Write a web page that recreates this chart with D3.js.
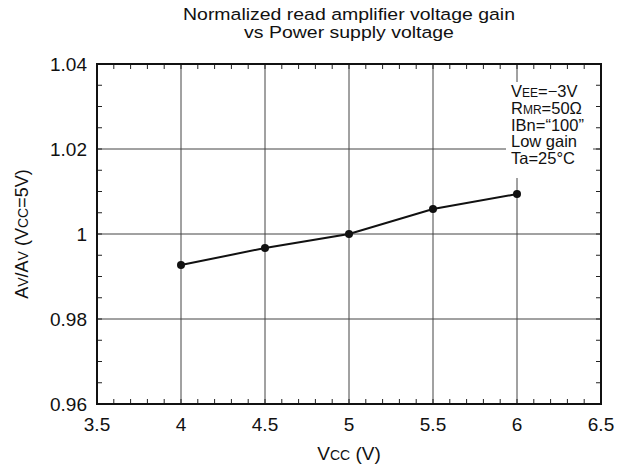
<!DOCTYPE html>
<html>
<head>
<meta charset="utf-8">
<script src="https://cdn.jsdelivr.net/npm/d3@7"></script>
<style>
  body { margin: 0; background: #fff; }
  svg text { font-family: "Liberation Sans", Arial, sans-serif; fill: #111; }
</style>
</head>
<body>
<div id="chart"></div>
<script>
// data
var vcc = [4, 4.5, 5, 5.5, 6];
var gain = [0.9927, 0.9967, 1.0, 1.0059, 1.0094];
var xTicks = [3.5, 4, 4.5, 5, 5.5, 6, 6.5];
var yTicks = [0.96, 0.98, 1, 1.02, 1.04];
var titleLines = ["Normalized read amplifier voltage gain", "vs Power supply voltage"];

var W = 635, H = 473;
var plotL = 97, plotR = 601, plotT = 64, plotB = 404;

var svg = d3.select("#chart").append("svg")
    .attr("width", W)
    .attr("height", H);

var x = d3.scaleLinear().domain([3.5, 6.5]).range([plotL, plotR]);
var y = d3.scaleLinear().domain([0.96, 1.04]).range([plotB, plotT]);

// title (glyphs in the original are a bit wide, so stretch a little)
var cx = (plotL + plotR) / 2;
svg.selectAll(".title").data(titleLines).enter().append("text")
    .attr("transform", function(d, i){
        return "translate(" + cx + "," + (20 + i * 17.5) + ") scale(1.18,1)";
    })
    .attr("text-anchor", "middle")
    .attr("font-size", "16.5px")
    .text(function(d){ return d; });

// grid
svg.selectAll(".vgrid").data(xTicks.slice(1, -1)).enter().append("line")
    .attr("x1", function(d){ return x(d); }).attr("x2", function(d){ return x(d); })
    .attr("y1", plotT).attr("y2", plotB)
    .attr("stroke", "#444").attr("stroke-width", 1);
svg.selectAll(".hgrid").data(yTicks.slice(1, -1)).enter().append("line")
    .attr("x1", plotL).attr("x2", plotR)
    .attr("y1", function(d){ return y(d); }).attr("y2", function(d){ return y(d); })
    .attr("stroke", "#444").attr("stroke-width", 1);

// minor ticks, pointing inward
var xMinor = d3.range(35, 66).map(function(v){ return v / 10; });
var yMinor = d3.range(192, 209).map(function(v){ return v / 200; });
var tl = 5;
svg.selectAll(".xminB").data(xMinor).enter().append("line")
    .attr("x1", function(d){ return x(d); }).attr("x2", function(d){ return x(d); })
    .attr("y1", plotB).attr("y2", plotB - tl)
    .attr("stroke", "#222").attr("stroke-width", 1);
svg.selectAll(".xminT").data(xMinor).enter().append("line")
    .attr("x1", function(d){ return x(d); }).attr("x2", function(d){ return x(d); })
    .attr("y1", plotT).attr("y2", plotT + tl)
    .attr("stroke", "#222").attr("stroke-width", 1);
svg.selectAll(".yminL").data(yMinor).enter().append("line")
    .attr("x1", plotL).attr("x2", plotL + tl)
    .attr("y1", function(d){ return y(d); }).attr("y2", function(d){ return y(d); })
    .attr("stroke", "#222").attr("stroke-width", 1);
svg.selectAll(".yminR").data(yMinor).enter().append("line")
    .attr("x1", plotR).attr("x2", plotR - tl)
    .attr("y1", function(d){ return y(d); }).attr("y2", function(d){ return y(d); })
    .attr("stroke", "#222").attr("stroke-width", 1);

// legend box (white, covers the grid)
var legend = svg.append("g");
legend.append("rect")
    .attr("x", 506).attr("y", 82)
    .attr("width", 87).attr("height", 96)
    .attr("fill", "#fff");

var legendLines = [
    [["V", 16.5], ["EE", 12], ["=\u22123V", 16.5]],
    [["R", 16.5], ["MR", 12], ["=50\u03a9", 16.5]],
    [["IBn=\u201c100\u201d", 16.5]],
    [["Low gain", 16.5]],
    [["Ta=25\u00b0C", 16.5]]
];
legendLines.forEach(function(parts, i){
    var t = legend.append("text")
        .attr("x", 511)
        .attr("y", 97 + i * 16.8);
    parts.forEach(function(p){
        t.append("tspan").attr("font-size", p[1] + "px").text(p[0]);
    });
});

// frame
svg.append("rect")
    .attr("x", plotL).attr("y", plotT)
    .attr("width", plotR - plotL).attr("height", plotB - plotT)
    .attr("fill", "none").attr("stroke", "#111").attr("stroke-width", 2);

// tick labels
svg.selectAll(".xlab").data(xTicks).enter().append("text")
    .attr("x", function(d){ return x(d); })
    .attr("y", plotB + 27)
    .attr("text-anchor", "middle")
    .attr("font-size", "19px")
    .text(function(d){ return d; });
svg.selectAll(".ylab").data(yTicks).enter().append("text")
    .attr("x", plotL - 10)
    .attr("y", function(d){ return y(d) + 7; })
    .attr("text-anchor", "end")
    .attr("font-size", "19px")
    .text(function(d){ return d === 1 ? "1" : d3.format(".2f")(d); });

// axis titles
var xt = svg.append("text")
    .attr("x", cx)
    .attr("y", 460)
    .attr("text-anchor", "middle")
    .attr("font-size", "19px");
xt.append("tspan").text("V");
xt.append("tspan").attr("font-size", "14px").text("CC");
xt.append("tspan").text(" (V)");

var yt = svg.append("text")
    .attr("transform", "translate(28," + ((plotT + plotB) / 2) + ") rotate(-90)")
    .attr("text-anchor", "middle")
    .attr("font-size", "18px");
yt.append("tspan").text("A");
yt.append("tspan").attr("font-size", "14px").text("V");
yt.append("tspan").text("/A");
yt.append("tspan").attr("font-size", "14px").text("V");
yt.append("tspan").text(" (V");
yt.append("tspan").attr("font-size", "14px").text("CC");
yt.append("tspan").text("=5V)");

// data line and points
var pts = vcc.map(function(v, i){ return [v, gain[i]]; });
svg.append("path")
    .datum(pts)
    .attr("d", d3.line().x(function(d){ return x(d[0]); }).y(function(d){ return y(d[1]); }))
    .attr("fill", "none")
    .attr("stroke", "#111")
    .attr("stroke-width", 2);
svg.selectAll(".pt").data(pts).enter().append("circle")
    .attr("cx", function(d){ return x(d[0]); })
    .attr("cy", function(d){ return y(d[1]); })
    .attr("r", 4)
    .attr("fill", "#111");
</script>
</body>
</html>
